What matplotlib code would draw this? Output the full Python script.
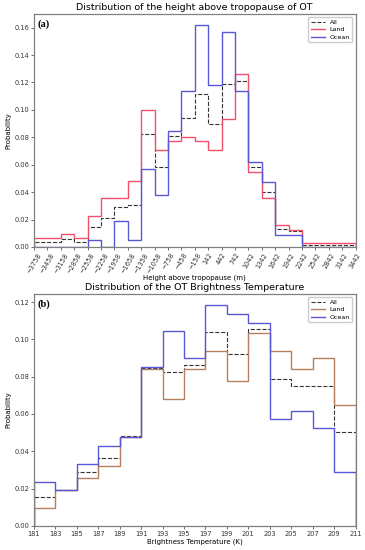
import numpy as np
import matplotlib.pyplot as plt

# (a) height above tropopause, bins of 300 m
height_edges = np.arange(-3758, 3443, 300)
height_all = [0.0039, 0.0039, 0.0056, 0.0039, 0.0149, 0.021, 0.0288, 0.0307,
              0.0822, 0.058, 0.081, 0.094, 0.1112, 0.0899, 0.119, 0.1207,
              0.058, 0.040, 0.0134, 0.0115, 0.0017, 0.0017, 0.0017, 0.0017]
height_land = [0.0063, 0.0063, 0.0095, 0.0063, 0.0224, 0.0354, 0.0354, 0.0483,
               0.100, 0.071, 0.0773, 0.0805, 0.0776, 0.0707, 0.0936, 0.126,
               0.0549, 0.0354, 0.0159, 0.0127, 0.0032, 0.0032, 0.0032, 0.0032]
height_ocean = [0.0, 0.0, 0.0, 0.0, 0.0049, 0.0, 0.019, 0.0049,
                0.0568, 0.038, 0.0846, 0.114, 0.162, 0.1183, 0.1568, 0.114,
                0.0617, 0.0473, 0.009, 0.009, 0.0, 0.0, 0.0, 0.0]

# (b) brightness temperature, bins of 2 K
bt_edges = np.arange(181, 212, 2)
bt_all = [0.0154, 0.019, 0.0289, 0.0366, 0.048, 0.0845, 0.0825, 0.0864,
          0.1038, 0.092, 0.1055, 0.0787, 0.0748, 0.0748, 0.0502]
bt_land = [0.0096, 0.019, 0.0259, 0.0323, 0.0479, 0.0839, 0.068, 0.0841,
           0.0938, 0.0775, 0.1034, 0.0938, 0.0839, 0.0902, 0.0646]
bt_ocean = [0.02375, 0.0191, 0.0332, 0.0427, 0.0479, 0.0852, 0.1043, 0.0902,
            0.1186, 0.1138, 0.1089, 0.0571, 0.0618, 0.0523, 0.0286]

fig = plt.figure(figsize=(3.65, 5.5), dpi=100)
ax1 = fig.add_axes([0.093, 0.551, 0.881, 0.424])
ax2 = fig.add_axes([0.093, 0.044, 0.881, 0.422])


def style(ax):
    for s in ax.spines.values():
        s.set_color("#808080")
        s.set_linewidth(0.9)
    ax.tick_params(labelsize=4.8, length=2, width=0.5, pad=1.5, colors="#333333")
    ax.margins(x=0)
    ax.set_ylim(bottom=0)
    ax.set_ylabel("Probability", fontsize=5, labelpad=2)
    ax.legend(fontsize=4.5, loc="upper right", handlelength=2.2,
              borderpad=0.4, labelspacing=0.35, framealpha=1, edgecolor="#cccccc")


ax1.stairs(height_all, height_edges, color="#333333", linestyle="--", linewidth=0.8, label="All")
ax1.stairs(height_land, height_edges, color="#f2506a", linewidth=1.0, label="Land")
ax1.stairs(height_ocean, height_edges, color="#5858d6", linewidth=1.0, label="Ocean")
ax1.set_xticks(height_edges)
ax1.set_xticklabels([str(v).replace("-", "\u2212") for v in height_edges], rotation=60)
ax1.set_xlabel("Height above tropopause (m)", fontsize=5, labelpad=0)
ax1.set_title("Distribution of the height above tropopause of OT", fontsize=6.8, pad=2.5)
style(ax1)
ax1.text(0.012, 0.975, "(a)", transform=ax1.transAxes, fontsize=7.5, fontweight="bold",
         family="Liberation Serif", va="top", ha="left")

ax2.stairs(bt_all, bt_edges, color="#333333", linestyle="--", linewidth=0.8, label="All")
ax2.stairs(bt_land, bt_edges, color="#b5805e", linewidth=1.0, label="Land")
ax2.stairs(bt_ocean, bt_edges, color="#5858d6", linewidth=1.0, label="Ocean")
ax2.set_xticks(bt_edges)
ax2.set_xlabel("Brightness Temperature (K)", fontsize=5, labelpad=1)
ax2.set_title("Distribution of the OT Brightness Temperature", fontsize=6.8, pad=3)
style(ax2)
ax2.text(0.012, 0.975, "(b)", transform=ax2.transAxes, fontsize=7.5, fontweight="bold",
         family="Liberation Serif", va="top", ha="left")

fig.savefig("out.png", dpi=100)
